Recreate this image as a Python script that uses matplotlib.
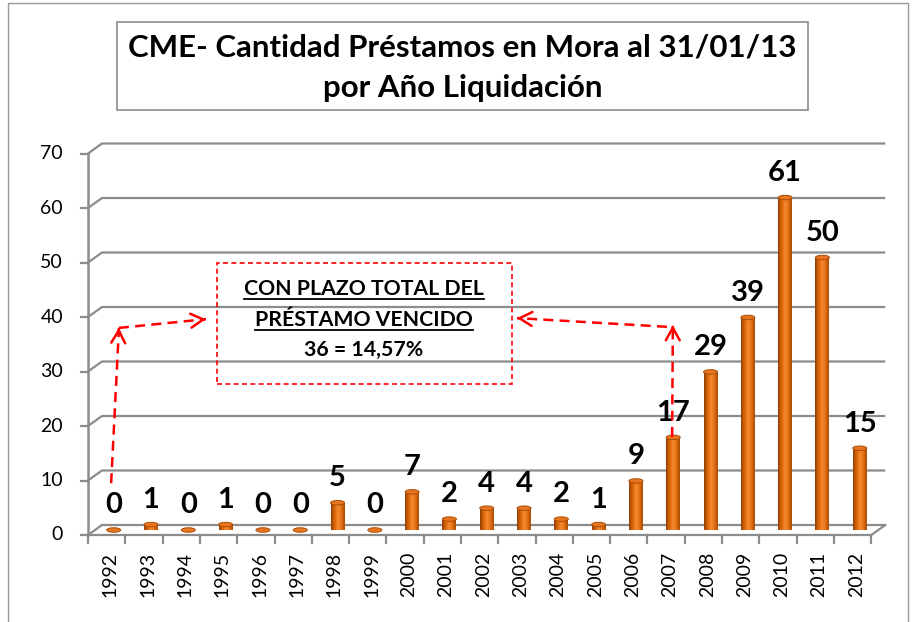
import matplotlib
matplotlib.use('Agg')
import matplotlib.pyplot as plt
import numpy as np
from matplotlib.patches import Rectangle, Ellipse
from matplotlib.colors import LinearSegmentedColormap
from matplotlib.lines import Line2D

years = ['1992', '1993', '1994', '1995', '1996', '1997', '1998', '1999', '2000',
         '2001', '2002', '2003', '2004', '2005', '2006', '2007', '2008', '2009',
         '2010', '2011', '2012']
counts = [0, 1, 0, 1, 0, 0, 5, 0, 7, 2, 4, 4, 2, 1, 9, 17, 29, 39, 61, 50, 15]
yticks = [0, 10, 20, 30, 40, 50, 60, 70]

title1 = 'CME- Cantidad Préstamos en Mora al 31/01/13'
title2 = 'por Año Liquidación'
note_lines = ['CON PLAZO TOTAL DEL', 'PRÉSTAMO VENCIDO', '36 = 14,57%']

plt.rcParams['font.family'] = ['Lato', 'DejaVu Sans']

W, H = 914, 622
fig = plt.figure(figsize=(W / 100, H / 100), dpi=100)

# pixel scale of the chart: one category = 37.3 px, 1 unit = 5.45 px
px_x = 37.3
px_y = 5.45
x_lo, x_hi = -0.5, 21.0
y_lo, y_hi = -3.0, 72.0
left_px = 88
zero_px = 535
bottom_px = zero_px - y_lo * px_y
ax = fig.add_axes([left_px / W, (H - bottom_px) / H,
                   (x_hi - x_lo) * px_x / W, (y_hi - y_lo) * px_y / H])
ax.axis('off')

# depth of the fake 3d box
dx = 14 / px_x
dy = 10 / px_y
n = len(years)
grid_c = '#8c8c8c'

for v in yticks:
    ax.plot([-0.5, -0.5 + dx, n - 0.5 + dx], [v, v + dy, v + dy],
            color=grid_c, lw=1.6, clip_on=False, solid_capstyle='butt')
    ax.plot([-0.5 - 7 / px_x, -0.5], [v, v], color=grid_c, lw=1.6, clip_on=False)
    ax.text(-0.5 - 25 / px_x, v, str(v), ha='right', va='center', fontsize=14)

ax.plot([-0.5, -0.5], [0, 70], color=grid_c, lw=1.8, clip_on=False)
ax.plot([-0.5, n - 0.5, n - 0.5 + dx], [0, 0, dy], color=grid_c, lw=1.6, clip_on=False)
for b in np.arange(-0.5, n, 1.0):
    ax.plot([b, b], [0, -8 / px_y], color=grid_c, lw=1.6, clip_on=False)

for i, yr in enumerate(years):
    ax.text(i + 0.1, -17 / px_y, yr, rotation=90, ha='center', va='top', fontsize=14)

# cylinders
cyl = LinearSegmentedColormap.from_list('cyl', ['#8a3d04', '#c85c07', '#e56d0b', '#f48a34',
                                                '#ef7c20', '#d0620a', '#a84e06'])
grad = np.linspace(0, 1, 64).reshape(1, -1)
bw = 14 / px_x
bx = np.arange(n) + 0.19
base = dy / 2
bars = ax.bar(bx, counts, width=bw, bottom=base, color='#e46c0a', edgecolor='none')
for b, v in zip(bars, counts):
    x0 = b.get_x()
    if v > 0:
        im = ax.imshow(grad, extent=[x0, x0 + bw, base, base + v], aspect='auto',
                       cmap=cyl, interpolation='bilinear', zorder=2)
        im.set_clip_path(b)
    ax.add_patch(Ellipse((x0 + bw / 2, base + v), bw, 4.5 / px_y, fc='#ea7520',
                         ec='#a84e06', lw=0.7, zorder=3))
    ax.annotate(str(v), (x0 + bw / 2, base + v), xytext=(0, 12), textcoords='offset points',
                ha='center', va='baseline', fontsize=21, fontweight='bold')

ax.set_xlim(x_lo, x_hi)
ax.set_ylim(y_lo, y_hi)

# note box
ax.add_patch(Rectangle((2.96, 27.7), 7.91, 22.2, fill=False, ec='#ff0000', lw=1.2,
                       ls=(0, (3, 2)), clip_on=False, zorder=4))
note_y = [45.1, 39.4, 33.9]
note_txt = []
for s, yy in zip(note_lines, note_y):
    note_txt.append(ax.text(6.9, yy, s, ha='center', va='center', fontsize=15.3,
                            fontweight='bold', zorder=5))


def dashed_arrow(start, end):
    ax.plot([start[0], end[0]], [start[1], end[1]], color='#ff0000', lw=1.8,
            ls=(0, (4, 2.5)), clip_on=False, zorder=5)
    sx = end[0] - 0.02 * (end[0] - start[0])
    sy = end[1] - 0.02 * (end[1] - start[1])
    ax.annotate('', xy=end, xytext=(sx, sy),
                arrowprops=dict(arrowstyle='->,head_length=0.9,head_width=0.5',
                                color='#ff0000', lw=1.8, shrinkA=0, shrinkB=0),
                annotation_clip=False, zorder=5)


dashed_arrow((0.12, 9.5), (0.33, 38.0))
dashed_arrow((0.33, 38.0), (2.66, 39.6))
dashed_arrow((15.16, 18.0), (15.18, 38.5))
dashed_arrow((15.02, 38.2), (11.0, 39.8))

# title box and outer frame
fig.patches.append(Rectangle((117 / W, 1 - 110 / H), (808 - 117) / W, 88 / H,
                             transform=fig.transFigure, fc='white', ec='#8c8c8c', lw=1.2))
fig.patches.append(Rectangle((8 / W, -0.05), (908 - 8) / W, 1.05 - 3 / H,
                             transform=fig.transFigure, fill=False, ec='#9a9a9a', lw=1.0))
fig.text(462.5 / W, 1 - 47 / H, title1, ha='center', va='center', fontsize=22.5, fontweight='bold')
fig.text(462.5 / W, 1 - 88 / H, title2, ha='center', va='center', fontsize=22.5, fontweight='bold')

# underline first two note lines
fig.canvas.draw()
r = fig.canvas.get_renderer()
for t in note_txt[:2]:
    bb = t.get_window_extent(r)
    ymid = (bb.y0 + bb.y1) / 2 - 10
    fig.add_artist(Line2D([bb.x0 / W, bb.x1 / W], [ymid / H, ymid / H], color='black',
                          lw=1.3, transform=fig.transFigure))

fig.savefig('out.png', dpi=100)
